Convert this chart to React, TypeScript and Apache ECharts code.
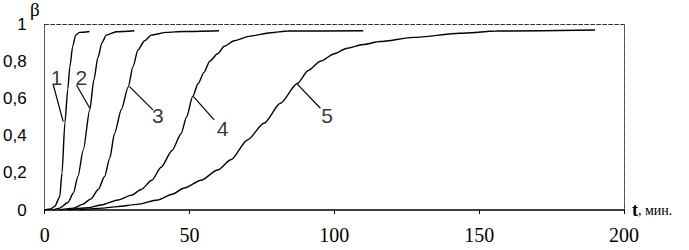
import React, { useEffect, useRef } from "react";
import * as echarts from "echarts";

const xTicks = [0, 50, 100, 150, 200];
const yTicks = [0, 0.2, 0.4, 0.6, 0.8, 1];

const curve1: number[][] = [[0, 0], [2, 0.005], [3.5, 0.02], [5.2, 0.07], [6, 0.2], [7, 0.47], [8, 0.65], [8.7, 0.77], [9.7, 0.88], [10.7, 0.94], [12, 0.955], [15.5, 0.96]];
const curve2: number[][] = [[3, 0], [5.2, 0.01], [8, 0.04], [9.9, 0.09], [11.5, 0.18], [13.3, 0.32], [15.6, 0.54], [17, 0.7], [18.4, 0.82], [19.8, 0.9], [21.3, 0.94], [24.7, 0.958], [31, 0.964]];
const curve3: number[][] = [[5, 0], [10, 0.01], [13, 0.03], [16, 0.06], [18.5, 0.11], [20.7, 0.18], [22.5, 0.28], [24.1, 0.41], [26.5, 0.54], [28.8, 0.66], [30.5, 0.77], [32.2, 0.86], [34.5, 0.91], [36.8, 0.94], [42, 0.955], [48, 0.96], [60.2, 0.964]];
const curve4: number[][] = [[8, 0], [15, 0.012], [19.6, 0.027], [25.3, 0.054], [30, 0.08], [33.3, 0.11], [37, 0.16], [40.2, 0.23], [44, 0.32], [47.1, 0.41], [49, 0.5], [51.1, 0.61], [53, 0.68], [55, 0.74], [57, 0.8], [59.7, 0.84], [62, 0.88], [65.4, 0.91], [71, 0.935], [78, 0.953], [84, 0.962], [110, 0.964]];
const curve5: number[][] = [[12, 0], [20, 0.01], [25, 0.018], [32, 0.03], [39, 0.054], [44, 0.085], [48.2, 0.118], [54, 0.16], [59.7, 0.215], [64.3, 0.27], [70, 0.376], [75.7, 0.466], [81.4, 0.574], [87.2, 0.68], [91, 0.75], [95.2, 0.8], [100, 0.84], [104.4, 0.87], [110, 0.89], [115.8, 0.906], [127.3, 0.928], [143.3, 0.95], [156, 0.962], [190, 0.968]];
const curves = [curve1, curve2, curve3, curve4, curve5];

const curveNames = ["1", "2", "3", "4", "5"];
const labelPos: number[][] = [[4.1, 0.71], [12.7, 0.715], [39.1, 0.51], [61.4, 0.44], [97.5, 0.51]];
const leaderLines: number[][][] = [
  [[3.0, 0.672], [6.4, 0.475]],
  [[11.0, 0.672], [15.6, 0.547]],
  [[29.3, 0.663], [37.4, 0.538]],
  [[51.4, 0.609], [58.5, 0.484]],
  [[87.2, 0.677], [95.2, 0.547]],
];

export default function App() {
  const ref = useRef<HTMLDivElement>(null);
  useEffect(() => {
    if (!ref.current) return;
    document.body.style.margin = "0";
    const chart = echarts.init(ref.current, null, { renderer: "svg" });
    const series: any[] = [];
    curves.forEach((c, i) => {
      series.push({
        type: "line",
        name: "curve" + curveNames[i],
        data: c,
        showSymbol: false,
        smooth: 0.25,
        smoothMonotone: "x",
        lineStyle: { color: "#000", width: 1.4 },
      });
    });
    leaderLines.forEach((l, i) => {
      series.push({
        type: "line",
        name: "leader" + curveNames[i],
        data: l,
        showSymbol: false,
        lineStyle: { color: "#000", width: 1.2 },
      });
    });
    series.push({
      type: "scatter",
      name: "labels",
      symbolSize: 0,
      data: labelPos.map((p, i) => ({ value: p, name: curveNames[i] })),
      label: {
        show: true,
        position: "inside",
        formatter: (p: any) => p.name,
        color: "#000",
        textBorderWidth: 0,
        fontSize: 21,
        fontFamily: "Liberation Sans, Arial, sans-serif",
      },
    });
    chart.setOption({
      animation: false,
      backgroundColor: "#fff",
      grid: { left: 43, right: 65, top: 24, bottom: 40 },
      xAxis: [
        {
          type: "value",
          min: 0,
          max: 200,
          interval: 50,
          position: "bottom",
          axisLine: { show: true, onZero: false, lineStyle: { color: "#000", width: 1.5 } },
          axisTick: { show: true, length: 4, lineStyle: { color: "#000" } },
          splitLine: { show: false },
          axisLabel: {
            color: "#000",
            fontSize: 20,
            margin: 15,
            fontFamily: "Liberation Serif, Times New Roman, serif",
            formatter: (v: number) => (xTicks.includes(v) ? String(v) : ""),
          },
        },
        {
          type: "value",
          min: 0,
          max: 200,
          position: "top",
          axisLine: { show: true, onZero: false, lineStyle: { color: "#333", width: 1, type: "dashed" } },
          axisTick: { show: false },
          axisLabel: { show: false },
          splitLine: { show: false },
        },
      ],
      yAxis: [
        {
          type: "value",
          min: 0,
          max: 1,
          interval: 0.2,
          axisLine: { show: true, onZero: false, lineStyle: { color: "#333", width: 1, type: "dotted" } },
          axisTick: { show: false },
          splitLine: { show: false },
          axisLabel: {
            color: "#000",
            fontSize: 17,
            margin: 18,
            fontFamily: "Liberation Sans, Arial, sans-serif",
            formatter: (v: number) => {
              const t = yTicks.find((y) => Math.abs(y - v) < 1e-6);
              if (t === undefined) return "";
              if (t === 0) return "0";
              if (t === 1) return "1";
              return t.toFixed(1).replace(".", ",");
            },
          },
        },
        {
          type: "value",
          min: 0,
          max: 1,
          position: "right",
          axisLine: { show: true, onZero: false, lineStyle: { color: "#333", width: 1, type: "dotted" } },
          axisTick: { show: false },
          axisLabel: { show: false },
          splitLine: { show: false },
        },
      ],
      graphic: [
        {
          type: "text",
          left: 30,
          top: 0,
          style: {
            text: "β",
            fontSize: 19,
            fontFamily: "Liberation Serif, Times New Roman, serif",
            fill: "#000",
          },
        },
        {
          type: "text",
          left: 632,
          top: 201,
          style: {
            text: "{a|t}{b|, мин.}",
            rich: {
              a: { fontSize: 18, fontWeight: "bold", fontFamily: "Liberation Serif, serif", fill: "#000" },
              b: { fontSize: 14, fontFamily: "Liberation Serif, serif", fill: "#000" },
            },
          },
        },
      ],
      series,
    });
    return () => chart.dispose();
  }, []);
  return <div ref={ref} style={{ width: 689, height: 250 }} />;
}
